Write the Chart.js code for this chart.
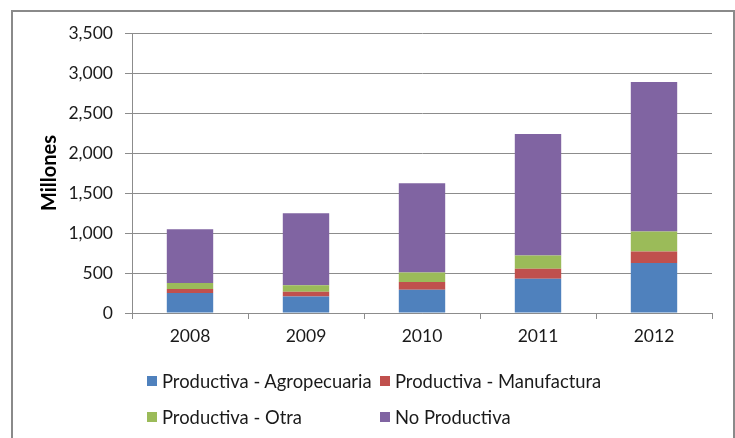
<!DOCTYPE html>
<html lang="es">
<head>
<meta charset="UTF-8">
<title>Millones</title>
<script src="https://cdn.jsdelivr.net/npm/chart.js"></script>
<style>
  body { margin: 0; background: #fff; }
  #wrap { position: relative; width: 735px; height: 438px; overflow: hidden; }
  #frame { position: absolute; left: 11px; top: 10px; width: 720px; height: 460px;
           border: 2px solid #8a8a8a; border-bottom: none; }
  canvas { position: absolute; left: 0; top: 0; }
  #legend { position: absolute; left: 147px; top: 370px; display: grid;
            grid-template-columns: 233px 240px; row-gap: 14px;
            font-family: Lato, "Open Sans", sans-serif; font-size: 18.4px; color: #1a1a1a; }
  #legend div { display: flex; align-items: center; height: 22px; white-space: nowrap; }
  #legend span { display: inline-block; width: 10px; height: 10px; margin-right: 5px; }
</style>
</head>
<body>
<div id="wrap">
  <div id="frame"></div>
  <canvas id="chart" width="735" height="438"></canvas>
  <div id="legend"></div>
</div>

<script>
    // values, in millions
    const years = ['2008', '2009', '2010', '2011', '2012'];
    const agropecuaria = [250, 205, 292, 429, 625];
    const manufactura = [50, 62, 96, 125, 145];
    const otra = [75, 79, 117, 166, 250];
    const noProductiva = [671, 900, 1116, 1517, 1868];

    const seriesNames = ['Productiva - Agropecuaria', 'Productiva - Manufactura', 'Productiva - Otra', 'No Productiva'];
    const seriesColors = ['#4F81BD', '#C0504D', '#9BBB59', '#8064A2'];
    const seriesData = [agropecuaria, manufactura, otra, noProductiva];

    const gridColor = '#8c8c8c';
    const font = { family: 'Lato, "Open Sans", sans-serif', size: 17.5 };

    const ctx = document.getElementById('chart').getContext('2d');
    new Chart(ctx, {
        type: 'bar',
        data: {
            labels: years,
            datasets: seriesNames.map((name, i) => ({
                label: name,
                data: seriesData[i],
                backgroundColor: seriesColors[i],
                categoryPercentage: 1,
                barPercentage: 0.4
            }))
        },
        options: {
            responsive: false,
            animation: false,
            layout: { padding: { top: 33, right: 23, bottom: 85, left: 0 } },
            plugins: { legend: { display: false }, tooltip: { enabled: false } },
            scales: {
                x: {
                    stacked: true,
                    grid: { drawOnChartArea: false, color: gridColor, tickLength: 6 },
                    border: { color: gridColor },
                    ticks: { color: '#1a1a1a', font: font, padding: 7 },
                    afterFit: s => { s.height = 40; }
                },
                y: {
                    stacked: true,
                    min: 0,
                    max: 3500,
                    grid: { color: gridColor, tickLength: 7 },
                    border: { color: gridColor },
                    ticks: {
                        stepSize: 500,
                        color: '#1a1a1a',
                        font: font,
                        padding: 12,
                        callback: v => v.toLocaleString('en-US')
                    },
                    title: {
                        display: true,
                        text: 'Millones',
                        color: '#000',
                        font: { family: font.family, size: 20, weight: 'bold' },
                        padding: { top: 38, bottom: 0 }
                    },
                    afterFit: s => { s.width = 132; }
                }
            }
        }
    });

    // legend laid out in two columns like the original
    const legend = document.getElementById('legend');
    seriesNames.forEach((name, i) => {
        const item = document.createElement('div');
        item.innerHTML = '<span style="background:' + seriesColors[i] + '"></span>' + name;
        legend.appendChild(item);
    });
</script>
</body>
</html>
